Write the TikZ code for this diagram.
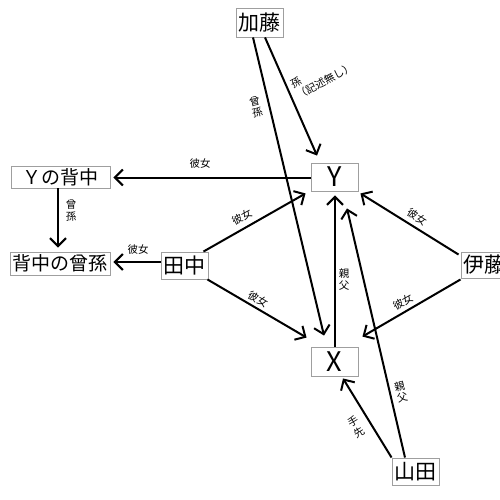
\documentclass[tikz,border=0pt]{standalone}
\usepackage{fontspec}
\setmainfont{Noto Sans CJK JP}
\usetikzlibrary{arrows.meta,calc}
\begin{document}
\begin{tikzpicture}[x=1pt,y=-1pt,
  box/.style={draw=gray!75, line width=0.9pt, inner sep=0pt, anchor=center},
  big/.style={font=\fontsize{21}{22}\selectfont},
  mid/.style={font=\fontsize{19}{20}\selectfont},
  lat/.style={font=\fontsize{27}{28}\selectfont},
  lbl/.style={font=\fontsize{10.5}{12}\selectfont, inner sep=0pt, align=center},
  arr/.style={line width=2pt, -{Straight Barb[length=8pt,width=16pt,line width=2pt]}}]
\useasboundingbox (0,0) rectangle (500,500);
\fill[white] (0,0) rectangle (500,500);
% nodes
\node[box,big,minimum width=47pt,minimum height=29pt] (kato) at (259.5,22.5) {加藤};
\node[box,lat,minimum width=47pt,minimum height=28pt] (Y) at (334.5,177) {Y};
\node[box,mid,minimum width=99pt,minimum height=22pt] (ynaka) at (60.5,177) {Ｙの背中};
\node[box,mid,minimum width=100pt,minimum height=23pt] (hima) at (60,263.5) {背中の曾孫};
\node[box,big,minimum width=47pt,minimum height=27pt] (tanaka) at (184.5,265.5) {田中};
\node[box,big,minimum width=47pt,minimum height=26pt] (ito) at (484.5,265) {伊藤};
\node[box,lat,minimum width=47pt,minimum height=29pt] (X) at (334.5,361.5) {X};
\node[box,big,minimum width=47pt,minimum height=27pt] (yamada) at (415.5,471.5) {山田};
% connectors
\draw[arr] ($(kato.south)+(5.5,0)$) -- ($(Y.north)+(-17.5,-7)$);
\draw[arr] ($(kato.south)+(-6.5,0)$) -- ($(X.north)+(-10.5,-11)$);
\draw[arr] ($(Y.west)+(0,0.5)$) -- ($(ynaka.east)+(3,0.5)$);
\draw[arr] ($(ynaka.south)+(-2.5,0)$) -- ($(hima.north)+(-2,-4)$);
\draw[arr] ($(tanaka.west)+(0,-3.5)$) -- ($(hima.east)+(3,-1.5)$);
\draw[arr] ($(tanaka.north east)+(-5,0)$) -- ($(Y.south west)+(-5,2)$);
\draw[arr] ($(tanaka.south east)+(-1,0)$) -- ($(X.north west)+(-4,-9)$);
\draw[arr] ($(X.north)+(0.5,0)$) -- ($(Y.south)+(0.5,4)$);
\draw[arr] ($(ito.north west)+(-2,3)$) -- ($(Y.south east)+(2,2)$);
\draw[arr] ($(ito.south west)+(0,1)$) -- ($(X.north east)+(4,-10)$);
\draw[arr] ($(yamada.north)+(-10.5,0)$) -- ($(Y.south)+(12.5,17)$);
\draw[arr] ($(yamada.north west)+(0,0)$) -- ($(X.south)+(8.5,2)$);
% labels
\node[lbl,align=left,rotate=28] (l1) at (322,76) {孫\\（記述無し）};
\node[lbl,rotate=13] (l2) at (256,107) {曾\\孫};
\node[lbl] (l3) at (200,164) {彼女};
\node[lbl] (l4) at (71,211) {曾\\孫};
\node[lbl] (l5) at (138,250) {彼女};
\node[lbl,rotate=29] (l6) at (242,217) {彼女};
\node[lbl,rotate=-30] (l7) at (258,299) {彼女};
\node[lbl] (l8) at (344,280) {親\\父};
\node[lbl,rotate=-32] (l9) at (417,217) {彼女};
\node[lbl,rotate=30] (l10) at (403,302) {彼女};
\node[lbl,rotate=13] (l11) at (401,392) {親\\父};
\node[lbl,rotate=30] (l12) at (356,427) {手\\先};
\end{tikzpicture}
\end{document}
